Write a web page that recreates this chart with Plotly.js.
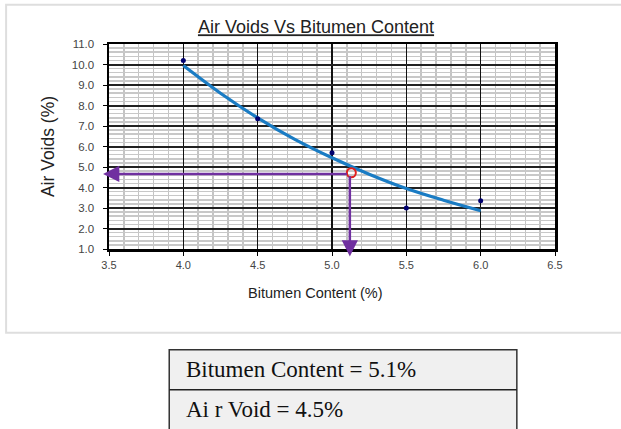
<!DOCTYPE html>
<html>
<head>
<meta charset="utf-8">
<script src="https://cdn.plot.ly/plotly-3.0.1.min.js"></script>
<style>html,body{margin:0;padding:0;background:#fff;}#chart{width:621px;height:429px;}</style>
</head>
<body>
<div id="chart"></div>
<script>
// ---- data ----
const bitumenContent = [4.0, 4.5, 5.0, 5.5, 6.0];
const airVoids = [10.2, 7.35, 5.7, 3.0, 3.35];
const fitX = [4.0, 4.25, 4.5, 4.75, 5.0, 5.25, 5.5, 5.75, 6.0];
const fitY = [9.95, 8.6, 7.4, 6.35, 5.45, 4.65, 3.95, 3.38, 2.87];
const optimumX = [5.13];
const optimumY = [4.72];
const resultLabels = ["Bitumen Content = 5.1%", "Ai r Void = 4.5%"];
const xRange = [3.5, 6.5];
const yRange = [1, 11];

// ---- layout helpers ----
const W = 621, H = 429;
const M = {l: 109, r: 65.5, t: 44.3, b: 179.7};
const PW = W - M.l - M.r, PH = H - M.t - M.b;
const px = x => (x - M.l) / PW;
const py = y => (H - M.b - y) / PH;

const purple = '#7030A0';

const traces = [
  {x: fitX, y: fitY, mode: 'lines', line: {color: '#1A7CC4', width: 3.2, shape: 'spline'}, hoverinfo: 'skip', showlegend: false},
  {x: bitumenContent, y: airVoids, mode: 'markers', marker: {color: '#000070', size: 5}, showlegend: false},
  {x: optimumX, y: optimumY, mode: 'markers', marker: {symbol: 'circle-open', color: '#E0201E', size: 9, line: {width: 2, color: '#E0201E'}}, showlegend: false, cliponaxis: false}
];

const tableTop = 350, tableMid = 390, tableL = 169.3, tableR = 517.3;
const serif = 'Liberation Serif, Times New Roman, serif';

const layout = {
  width: W, height: H,
  margin: M,
  paper_bgcolor: '#fff', plot_bgcolor: '#fff',
  showlegend: false,
  font: {family: 'Liberation Sans, Arial, sans-serif', color: '#333'},
  title: {text: '<u>Air Voids Vs Bitumen Content</u>', font: {size: 18, color: '#222'}, x: 316/W, xanchor: 'center', y: 1 - 27/H, yanchor: 'middle', xref: 'container', yref: 'container'},
  xaxis: {
    range: xRange, dtick: 0.5, tickformat: '.1f',
    showgrid: true, gridcolor: '#111', gridwidth: 1.5,
    minor: {dtick: 0.1, showgrid: true, gridcolor: '#c4c4c4', gridwidth: 1.5},
    showline: true, linecolor: '#000', linewidth: 2.5, mirror: true,
    ticks: 'outside', ticklen: 4, tickcolor: '#000', ticklabelstandoff: 0,
    tickfont: {size: 11, color: '#444'}, zeroline: false
  },
  yaxis: {
    range: yRange, dtick: 1, tickformat: '.1f',
    showgrid: true, gridcolor: '#222', gridwidth: 2,
    minor: {dtick: 0.2, showgrid: true, gridcolor: '#c8c8c8', gridwidth: 1.5},
    showline: true, linecolor: '#000', linewidth: 2.5, mirror: true,
    ticks: 'outside', ticklen: 4, tickcolor: '#000', ticklabelstandoff: 6,
    tickfont: {size: 11.5, color: '#444'}, zeroline: false,
    title: {text: 'Air Voids (%)', font: {size: 17.5, color: '#222'}, standoff: 13}
  },
  shapes: [
    {type: 'rect', xref: 'paper', yref: 'paper', x0: px(6), x1: px(640), y0: py(5), y1: py(333), line: {color: '#dedede', width: 2}, layer: 'below'},
    {type: 'rect', xref: 'paper', yref: 'paper', x0: px(tableL), x1: px(tableR), y0: py(tableTop), y1: py(445), fillcolor: '#f0f0f0', line: {color: '#333', width: 1.5}},
    {type: 'line', xref: 'paper', yref: 'paper', x0: px(tableL), x1: px(tableR), y0: py(tableMid), y1: py(tableMid), line: {color: '#222', width: 1.5}}
  ],
  annotations: [
    {x: 3.46, y: optimumY[0] - 0.06, ax: optimumX[0] - 0.02, ay: optimumY[0] - 0.06, xref: 'x', yref: 'y', axref: 'x', ayref: 'y', text: '', showarrow: true, arrowhead: 2, arrowsize: 1.3, arrowwidth: 2.5, arrowcolor: purple},
    {x: optimumX[0] - 0.01, y: 0.64, ax: optimumX[0] - 0.01, ay: optimumY[0] - 0.1, xref: 'x', yref: 'y', axref: 'x', ayref: 'y', text: '', showarrow: true, arrowhead: 2, arrowsize: 1.3, arrowwidth: 2.5, arrowcolor: purple},
    {xref: 'paper', yref: 'paper', x: px(316), y: py(293), xanchor: 'center', yanchor: 'middle', text: 'Bitumen Content (%)', showarrow: false, font: {size: 14.5, color: '#222'}},
    {xref: 'paper', yref: 'paper', x: px(184), y: py(370), xanchor: 'left', yanchor: 'middle', text: resultLabels[0], showarrow: false, font: {family: serif, size: 23, color: '#111'}},
    {xref: 'paper', yref: 'paper', x: px(184), y: py(410), xanchor: 'left', yanchor: 'middle', text: resultLabels[1], showarrow: false, font: {family: serif, size: 23, color: '#111'}}
  ]
};

Plotly.newPlot('chart', traces, layout, {displayModeBar: false, staticPlot: true});
</script>
</body>
</html>
